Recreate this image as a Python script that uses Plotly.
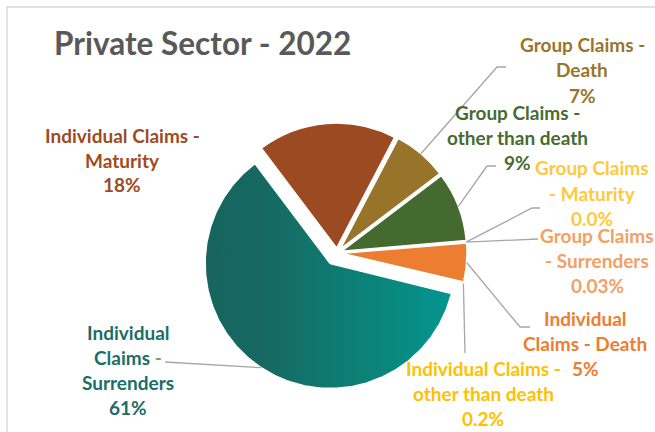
import math
import plotly.graph_objects as go

# ---- data -------------------------------------------------------------
categories = [
    "Individual Claims - Maturity",
    "Group Claims - Death",
    "Group Claims - other than death",
    "Group Claims - Maturity",
    "Group Claims - Surrenders",
    "Individual Claims - Death",
    "Individual Claims - other than death",
    "Individual Claims - Surrenders",
]
values = [18, 7, 9, 0.0, 0.03, 5, 0.2, 61]
value_decimals = [0, 0, 0, 1, 2, 0, 1, 0]
label_lines = [
    ["Individual Claims -", "Maturity"],
    ["Group Claims -", "Death"],
    ["Group Claims -", "other than death"],
    ["Group Claims", "- Maturity"],
    ["Group Claims", "- Surrenders"],
    ["Individual", "Claims - Death"],
    ["Individual Claims -", "other than death"],
    ["Individual", "Claims -", "Surrenders"],
]
title_text = "Private Sector - 2022"

# ---- styling ----------------------------------------------------------
W, H = 655, 432
slice_colors = ["#9C4A22", "#97742A", "#456A30", "#FFC000",
                "#F4B183", "#ED7D31", "#FFC000", "#117A73"]
label_colors = ["#9E4B24", "#98752B", "#476B31", "#FFC83D",
                "#F2A065", "#ED7D31", "#FFC000", "#1B6E67"]
dash_accent = {7: "#70AD47"}
# slice drawn with a left-to-right gradient instead of a flat colour
gradient_slice = 7
gradient_scale = [[0.0, "#18645F"], [0.25, "#166962"], [0.6, "#0D7F75"],
                  [1.0, "#03968F"]]
pulls = [0.04, 0.04, 0.04, 0.04, 0.04, 0.04, 0.04, 0.10]
rotation = -37
FONT = "Lato"
LABEL_SIZE = 19
TITLE_SIZE = 31.5
LINE_GAP = 25
EDGE_W = 1.5

# pie placement in pixels: centre and radius
cx, cy, radius = 337, 253, 125
box = 2 * radius * (1 + max(pulls))
dom_x = [(cx - box / 2) / W, (cx + box / 2) / W]
dom_y = [(H - cy - box / 2) / H, (H - cy + box / 2) / H]

# label blocks: centre x and first line y (pixels)
label_pos = [(122, 135), (582, 45), (517, 112), (592, 168),
             (597, 235), (585, 318), (483, 368), (128, 332)]
# leader line bends / ends (pixels), None = no leader
leader_pts = [
    None,
    [(497, 67), (506, 67)],
    [(487, 166), (496, 166)],
    [(532, 208), (540, 208)],
    [(538, 239)],
    [(520, 327), (530, 327)],
    [(465, 353)],
    [(165, 362)],
]


def px(x, y):
    return x / W, 1 - y / H


pie_colors = list(slice_colors)
pie_colors[gradient_slice] = "rgba(0,0,0,0)"
edge_widths = [EDGE_W] * len(values)
edge_widths[gradient_slice] = 0

fig = go.Figure()

# slice angles (clockwise from 12 o'clock), same convention as the pie
total = sum(values)
angles = []
start = rotation
for v in values:
    span = 360 * v / total
    angles.append((start, start + span))
    start += span

# gradient-filled wedge on a pixel-aligned hidden axis pair
a0, a1 = angles[gradient_slice]
mid = math.radians((a0 + a1) / 2)
off = radius * pulls[gradient_slice]
wx = cx + off * math.sin(mid)
wy = cy - off * math.cos(mid)
n = 240
xs, ys = [wx], [wy]
for k in range(n + 1):
    t = math.radians(a0 + (a1 - a0) * k / n)
    xs.append(wx + radius * math.sin(t))
    ys.append(wy - radius * math.cos(t))
xs.append(wx)
ys.append(wy)
fig.add_trace(go.Scatter(
    x=xs, y=ys, mode="lines", fill="toself",
    fillgradient=dict(type="horizontal", colorscale=gradient_scale),
    line=dict(color="white", width=EDGE_W),
    hoverinfo="skip", showlegend=False,
))

fig.add_trace(go.Pie(
    labels=categories,
    values=values,
    sort=False,
    direction="clockwise",
    rotation=rotation,
    pull=pulls,
    textinfo="none",
    marker=dict(colors=pie_colors,
                line=dict(color="white", width=edge_widths)),
    domain=dict(x=dom_x, y=dom_y),
    showlegend=False,
    hovertemplate="%{label}: %{value}%<extra></extra>",
))

# leader lines from each slice's outer mid-point
shapes = []
for i, (s0, s1) in enumerate(angles):
    if leader_pts[i] is None:
        continue
    mid_i = math.radians((s0 + s1) / 2)
    rr = radius * (1 + pulls[i])
    sx = cx + rr * math.sin(mid_i)
    sy = cy - rr * math.cos(mid_i)
    pts = [(sx, sy)] + leader_pts[i]
    path = "M " + " L ".join("%.5f %.5f" % px(x, y) for x, y in pts)
    shapes.append(dict(type="path", path=path, xref="paper", yref="paper",
                       line=dict(color="#A6A6A6", width=1.3)))

# chart frame
shapes.append(dict(type="rect", xref="paper", yref="paper",
                   x0=7 / W, x1=1.05, y0=-0.05, y1=1 - 7 / H,
                   line=dict(color="#D9D9D9", width=1.5),
                   fillcolor="rgba(0,0,0,0)", layer="below"))

annotations = []
for i, lines in enumerate(label_lines):
    pct = f"{values[i]:.{value_decimals[i]}f}%"
    x0, y0 = label_pos[i]
    for k, line in enumerate(lines + [pct]):
        text = line
        if i in dash_accent and line.endswith(" -"):
            text = line[:-1] + f"<span style='color:{dash_accent[i]}'>-</span>"
        ax, ay = px(x0, y0 + k * LINE_GAP)
        annotations.append(dict(
            x=ax, y=ay, xref="paper", yref="paper", text=text,
            showarrow=False, xanchor="center", yanchor="middle",
            font=dict(family=FONT, size=LABEL_SIZE, color=label_colors[i],
                      weight="bold"),
        ))

tx, ty = px(52, 43)
annotations.append(dict(
    x=tx, y=ty, xref="paper", yref="paper", text=title_text,
    showarrow=False, xanchor="left", yanchor="middle",
    font=dict(family=FONT, size=TITLE_SIZE, color="#595959", weight="bold"),
))

fig.update_layout(
    width=W, height=H,
    margin=dict(l=0, r=0, t=0, b=0),
    paper_bgcolor="white",
    plot_bgcolor="white",
    xaxis=dict(range=[0, W], domain=[0, 1], visible=False, fixedrange=True),
    yaxis=dict(range=[H, 0], domain=[0, 1], visible=False, fixedrange=True),
    shapes=shapes,
    annotations=annotations,
)

fig.write_html("out.html")
